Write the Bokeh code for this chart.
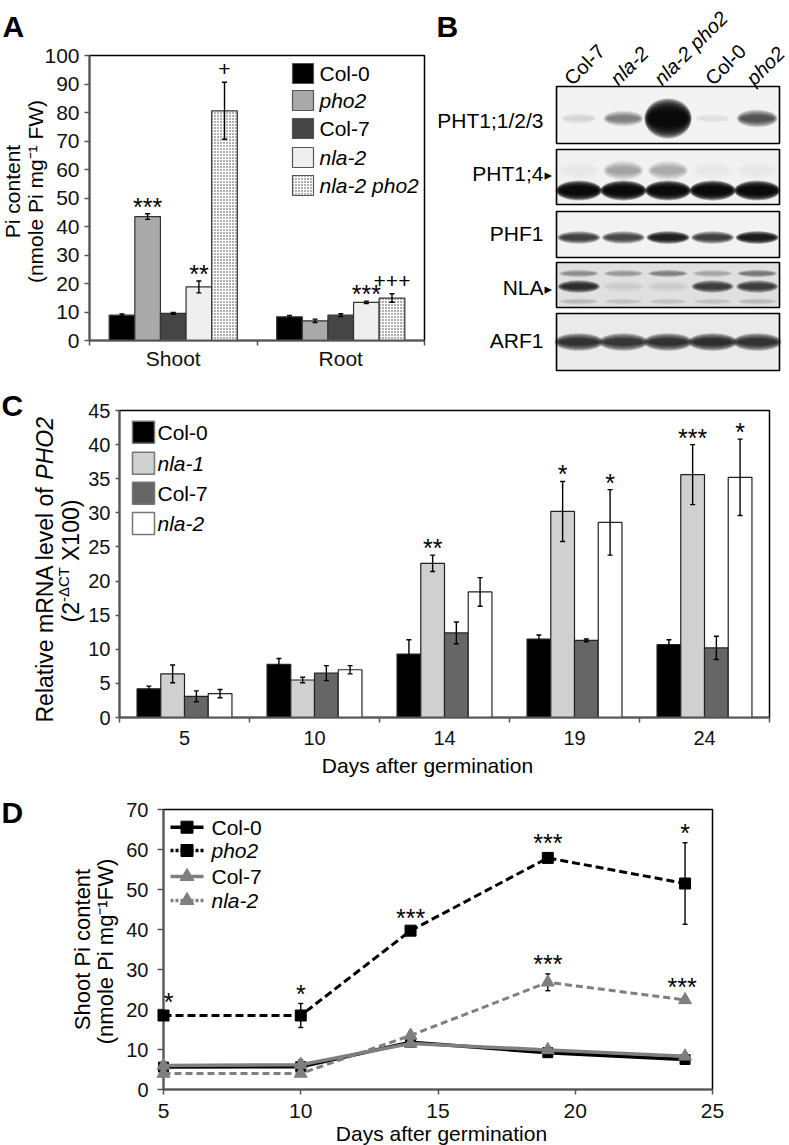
import math
from bokeh.plotting import figure
from bokeh.layouts import column, row
from bokeh.models import Range1d, FixedTicker
from bokeh.core.properties import value
from bokeh.embed import file_html
from bokeh.resources import INLINE

FONT = "Liberation Sans"

# ---------------- data ----------------
# Panel A: Pi content
a_tissues = ["Shoot", "Root"]
a_genotypes = ["Col-0", "pho2", "Col-7", "nla-2", "nla-2 pho2"]
a_shoot = [8.9, 43.5, 9.5, 18.8, 80.6]
a_shoot_err = [0.4, 1.0, 0.3, 2.1, 10.0]
a_root = [8.3, 6.9, 8.9, 13.4, 14.9]
a_root_err = [0.5, 0.6, 0.5, 0.4, 1.5]
a_shoot_sig = ["", "***", "", "**", "+"]
a_root_sig = ["", "", "", "***", "+++"]

# Panel B: immunoblot (relative band intensities, 0-1)
b_lanes = ["Col-7", "nla-2", "nla-2 pho2", "Col-0", "pho2"]
b_rows = ["PHT1;1/2/3", "PHT1;4", "PHF1", "NLA", "ARF1"]
b_pht123 = [0.10, 0.45, 0.98, 0.07, 0.65]
b_pht14_upper = [0.04, 0.30, 0.28, 0.03, 0.05]
b_pht14 = [0.97, 0.97, 0.97, 0.97, 0.97]
b_phf1 = [0.75, 0.72, 0.88, 0.75, 0.90]
b_nla_upper = [0.35, 0.30, 0.40, 0.25, 0.45]
b_nla = [0.82, 0.07, 0.07, 0.75, 0.75]
b_nla_lower = [0.15, 0.12, 0.12, 0.12, 0.15]
b_arf1 = [0.80, 0.78, 0.80, 0.82, 0.80]

# Panel C: PHO2 mRNA
c_days = ["5", "10", "14", "19", "24"]
c_genotypes = ["Col-0", "nla-1", "Col-7", "nla-2"]
c_col0 = [4.2, 7.8, 9.3, 11.5, 10.7]
c_col0_err = [0.4, 0.85, 2.1, 0.6, 0.7]
c_nla1 = [6.4, 5.5, 22.6, 30.2, 35.6]
c_nla1_err = [1.3, 0.4, 1.2, 4.4, 4.4]
c_col7 = [3.1, 6.5, 12.4, 11.3, 10.2]
c_col7_err = [0.8, 1.1, 1.6, 0.2, 1.7]
c_nla2 = [3.5, 7.0, 18.4, 28.6, 35.2]
c_nla2_err = [0.6, 0.6, 2.1, 4.8, 5.6]
c_sig_nla1 = ["", "", "**", "*", "***"]
c_sig_nla2 = ["", "", "", "*", "*"]

# Panel D: shoot Pi over time
d_days = [5, 10, 14, 19, 24]
d_col0 = [5.6, 5.7, 11.8, 9.2, 7.5]
d_col0_err = [0.5, 0.6, 0.7, 0.7, 0.5]
d_pho2 = [18.5, 18.5, 39.7, 57.9, 51.5]
d_pho2_err = [0.8, 3.0, 0.8, 1.2, 10.2]
d_col7 = [6.0, 6.2, 11.5, 9.9, 8.3]
d_col7_err = [0.6, 1.2, 0.8, 0.8, 0.6]
d_nla2 = [4.0, 4.0, 13.5, 26.8, 22.4]
d_nla2_err = [0.4, 0.5, 1.0, 2.1, 0.7]
d_sig_pho2 = ["*", "*", "***", "***", "*"]
d_sig_nla2 = ["", "", "", "***", "***"]


# ---------------- helpers ----------------
class Geo:
    """Maps reference-picture pixel positions to data coordinates of a frame."""
    def __init__(self, fx0, fx1, fy0, fy1, x0, x1, y0, y1):
        self.fx0, self.fx1, self.fy0, self.fy1 = fx0, fx1, fy0, fy1
        self.x0, self.x1, self.y0, self.y1 = x0, x1, y0, y1

    def x(self, px):
        return self.x0 + (px - self.fx0) * (self.x1 - self.x0) / (self.fx1 - self.fx0)

    def y(self, py):
        return self.y1 - (py - self.fy0) * (self.y1 - self.y0) / (self.fy1 - self.fy0)

    def ppu_y(self):
        return (self.fy1 - self.fy0) / (self.y1 - self.y0)


def make_fig(fx, fy, W, H, g, axes=True):
    kw = dict(width=W, height=H,
              x_range=Range1d(g.x0, g.x1), y_range=Range1d(g.y0, g.y1),
              output_backend="svg", toolbar_location=None,
              min_border_left=int(round(g.fx0 - fx)),
              min_border_right=int(round(fx + W - g.fx1)),
              min_border_top=int(round(g.fy0 - fy)),
              min_border_bottom=int(round(fy + H - g.fy1)))
    if not axes:
        kw.update(x_axis_location=None, y_axis_location=None)
    p = figure(**kw)
    p.grid.visible = False
    p.background_fill_color = "white"
    p.border_fill_color = "white"
    if axes:
        p.outline_line_color = "black"
        p.outline_line_width = 1.5
        for ax in (p.xaxis, p.yaxis):
            ax.axis_line_color = "#555555"
            ax.axis_line_width = 2
            ax.major_tick_line_color = "#555555"
            ax.major_tick_line_width = 1.5
            ax.major_tick_in = 0
            ax.minor_tick_line_color = None
            ax.major_label_text_font = FONT
            ax.major_label_text_color = "#111111"
    else:
        p.outline_line_color = None
    return p


def txt(p, g, px, py, text, size, align="left", baseline="alphabetic",
        angle=0.0, style="normal", font=FONT):
    r = p.text(x=[g.x(px)], y=[g.y(py)], text=[text], angle=angle,
               text_font=value(font), text_font_size=f"{size}px",
               text_align=align, text_baseline=baseline,
               text_font_style=value(style), text_color="black")
    r.level = "overlay"
    return r


def errbars(p, xs, vals, errs, cap=5, color="black", width=1.4, level=None):
    lo = [v - e for v, e in zip(vals, errs)]
    hi = [v + e for v, e in zip(vals, errs)]
    r1 = p.segment(x0=xs, y0=lo, x1=xs, y1=hi, line_color=color, line_width=width)
    r2 = p.scatter(x=list(xs) + list(xs), y=lo + hi, marker="dash", size=cap,
                   line_color=color, line_width=width)
    if level:
        r1.level = level
        r2.level = level


def sig(p, xs, vals, errs, texts, size, yoff, xoffs=None):
    if xoffs is None:
        xoffs = [0] * len(xs)
    keep = [(x, v + e, t, o) for x, v, e, t, o in zip(xs, vals, errs, texts, xoffs) if t]
    if not keep:
        return
    r = p.text(x=[k[0] for k in keep], y=[k[1] for k in keep], text=[k[2] for k in keep],
               x_offset=[k[3] for k in keep], y_offset=yoff,
               text_font=value(FONT), text_font_size=f"{size}px",
               text_align="center", text_baseline="alphabetic", text_color="black")
    r.level = "overlay"


ROT = math.pi / 2

# ================= Panel A =================
gA = Geo(89, 424, 55, 340, 0, 4, 0, 100)
pA = make_fig(0, 0, 430, 380, gA)
a_fill = ["#000000", "#a9a9a9", "#454545", "#efefef", "#ffffff"]
HATCH = dict(hatch_pattern="dot", hatch_scale=3.0, hatch_color="#3a3a3a", hatch_weight=1.4)
bwA = 0.306
for j, gname in enumerate(a_genotypes):
    xs = [1 + 2 * i + (j - 2) * bwA for i in range(len(a_tissues))]
    tops = [a_shoot[j], a_root[j]]
    errs = [a_shoot_err[j], a_root_err[j]]
    extra = HATCH if j == 4 else {}
    pA.vbar(x=xs, top=tops, bottom=0, width=bwA, fill_color=a_fill[j],
            line_color="#333333", line_width=1.2, **extra)
    errbars(pA, xs, tops, errs, cap=5)
    stars = [a_shoot_sig[j], a_root_sig[j]]
    plus = [s if s.startswith("+") else "" for s in stars]
    ast = [s if s.startswith("*") else "" for s in stars]
    sig(pA, xs, tops, errs, ast, 25, -7)
    sig(pA, xs, tops, errs, plus, 21, -13)

# legend A
legA_rows = [73, 100, 128, 157, 185]
for j, gname in enumerate(a_genotypes):
    extra = HATCH if j == 4 else {}
    pA.rect(x=[gA.x(302.5)], y=[gA.y(legA_rows[j])], width=21, height=20,
            width_units="screen", height_units="screen", fill_color=a_fill[j],
            line_color="#555555", line_width=1.2, **extra)
    pA.text(x=[gA.x(319)], y=[gA.y(legA_rows[j])], text=[gname],
            text_font=value(FONT), text_font_size="21px",
            text_font_style=value("normal" if j in (0, 2) else "italic"),
            text_baseline="middle", text_align="left", text_color="black")

pA.xaxis.ticker = FixedTicker(ticks=[1, 3], minor_ticks=[0, 2, 4])
pA.xaxis.major_label_overrides = {1: a_tissues[0], 3: a_tissues[1]}
pA.xaxis.major_tick_line_color = None
pA.xaxis.major_tick_out = 0
pA.xaxis.minor_tick_line_color = "#555555"
pA.xaxis.minor_tick_line_width = 1.5
pA.xaxis.minor_tick_out = 5
pA.xaxis.minor_tick_in = 0
pA.xaxis.major_label_standoff = 1
pA.xaxis.major_label_text_font_size = "21px"
pA.yaxis.ticker = FixedTicker(ticks=list(range(0, 101, 10)), minor_ticks=[])
pA.yaxis.major_tick_out = 5
pA.yaxis.major_label_standoff = 5
pA.yaxis.major_label_text_font_size = "21px"

txt(pA, gA, 2, 26, "A", 30, style="bold")
txt(pA, gA, 12, 191, "Pi content", 21, align="center", baseline="middle", angle=ROT)
txt(pA, gA, 35, 191, "(nmole Pi mg\u207b\u00b9 FW)", 21, align="center",
    baseline="middle", angle=ROT)

# ================= Panel B =================
# frame shares A's top/bottom borders; all blot marks drawn at overlay level
gB = Geo(553, 780, 55, 340, -0.0673, 5.0224, 0.528, 5.5458)
pB = make_fig(430, 0, 359, 380, gB, axes=False)
ppuB = gB.ppu_y()
row_center_px = [114.5, 176.5, 234, 284.5, 341.5]
row_height_px = [57, 55, 46, 45, 57]
row_bg = ["#f3f3f3", "#f1f1f1", "#f2f2f2", "#e0e0e0", "#eaeaea"]
r = pB.rect(x=[2.5] * 5, y=[gB.y(c) for c in row_center_px], width=5,
            height=[h / ppuB for h in row_height_px], fill_color=row_bg,
            line_color=None)
r.level = "overlay"

lane_x = [l + 0.5 for l in range(len(b_lanes))]


def bands(ri, dy_px, h_px, intens, widths, nlayers=10):
    yc = gB.y(row_center_px[ri] + dy_px)
    if not isinstance(h_px, list):
        h_px = [h_px] * len(intens)
    if not isinstance(widths, list):
        widths = [widths] * len(intens)
    alphas = [1 - (1 - min(I, 0.985)) ** (1.0 / nlayers) for I in intens]
    for k in range(nlayers):
        s = 1.0 - k * 0.075
        rr = pB.ellipse(x=lane_x, y=[yc] * len(intens),
                        width=[w * (0.7 + 0.3 * s) for w in widths],
                        height=[h / ppuB * s for h in h_px],
                        fill_color="#050505", fill_alpha=alphas, line_color=None)
        rr.level = "overlay"


bands(0, 3.5, [12, 16, 40, 10, 18], b_pht123, [0.8, 0.9, 1.06, 0.8, 0.92])
bands(1, -6.5, 20, b_pht14_upper, 0.9)
bands(1, 13.5, 20, b_pht14, 1.04)
bands(2, 3, 13, b_phf1, 0.97)
bands(3, -11.5, 8, b_nla_upper, 0.9)
bands(3, 1.5, 13, b_nla, 0.95)
bands(3, 16.5, 7, b_nla_lower, 0.9)
bands(4, 0, 18, b_arf1, 1.1)

r = pB.rect(x=[2.5] * 5, y=[gB.y(c) for c in row_center_px], width=5,
            height=[h / ppuB for h in row_height_px], fill_color=None,
            line_color="black", line_width=1.6)
r.level = "overlay"

lane_offsets = [0.25, 0.28, 0.26, 0.41, 0.33]
for l, name in enumerate(b_lanes):
    rr = pB.text(x=[l + lane_offsets[l]], y=[gB.y(81)], text=[name], angle=math.pi / 4,
                 text_font=value(FONT), text_font_size="20px",
                 text_align="left", text_baseline="alphabetic",
                 text_font_style=value("normal" if name.startswith("Col") else "italic"),
                 text_color="black")
    rr.level = "overlay"

row_label_px = [120, 173, 233, 287, 340]
for ri, name in enumerate(b_rows):
    txt(pB, gB, 543, row_label_px[ri], name, 21, align="right", baseline="middle")
    if name in ("PHT1;4", "NLA"):
        txt(pB, gB, 544, row_label_px[ri] + 1, "\u25b8", 15, align="left",
            baseline="middle", font="DejaVu Sans")

txt(pB, gB, 436, 26, "B", 30, style="bold")

# ================= Panel C =================
gC = Geo(119, 769, 410, 717, 0, 10, 0, 45)
pC = make_fig(0, 380, 789, 405, gC)
c_fill = ["#000000", "#d0d0d0", "#666666", "#ffffff"]
c_vals = [c_col0, c_nla1, c_col7, c_nla2]
c_errs = [c_col0_err, c_nla1_err, c_col7_err, c_nla2_err]
c_sigs = [None, c_sig_nla1, None, c_sig_nla2]
bwC = 0.365
for j, gname in enumerate(c_genotypes):
    xs = [1 + 2 * i + (j - 1.5) * bwC for i in range(len(c_days))]
    pC.vbar(x=xs, top=c_vals[j], bottom=0, width=bwC, fill_color=c_fill[j],
            line_color="#222222", line_width=1.2)
    errbars(pC, xs, c_vals[j], c_errs[j], cap=5)
    if c_sigs[j]:
        sig(pC, xs, c_vals[j], c_errs[j], c_sigs[j], 25, -7)

legC_rows = [431.7, 462.7, 492.7, 523]
for j, gname in enumerate(c_genotypes):
    pC.rect(x=[gC.x(143)], y=[gC.y(legC_rows[j])], width=22, height=22,
            width_units="screen", height_units="screen", fill_color=c_fill[j],
            line_color="#777777", line_width=1.5)
    pC.text(x=[gC.x(157)], y=[gC.y(legC_rows[j])], text=[gname],
            text_font=value(FONT), text_font_size="21px",
            text_font_style=value("normal" if j in (0, 2) else "italic"),
            text_baseline="middle", text_align="left", text_color="black")

pC.xaxis.ticker = FixedTicker(ticks=[1, 3, 5, 7, 9], minor_ticks=[0, 2, 4, 6, 8, 10])
pC.xaxis.major_label_overrides = {1 + 2 * i: d for i, d in enumerate(c_days)}
pC.xaxis.major_tick_line_color = None
pC.xaxis.major_tick_out = 0
pC.xaxis.minor_tick_line_color = "#555555"
pC.xaxis.minor_tick_line_width = 1.5
pC.xaxis.minor_tick_out = 5
pC.xaxis.minor_tick_in = 0
pC.xaxis.major_label_standoff = 8
pC.xaxis.major_label_text_font_size = "20px"
pC.yaxis.ticker = FixedTicker(ticks=list(range(0, 46, 5)), minor_ticks=[])
pC.yaxis.major_tick_out = 4
pC.yaxis.major_label_standoff = 5
pC.yaxis.major_label_text_font_size = "20px"

txt(pC, gC, 1, 405, "C", 30, style="bold")
txt(pC, gC, 44.5, 722, "Relative mRNA level of ", 23, align="left", baseline="middle", angle=ROT)
txt(pC, gC, 44.5, 722 - 10.558 * 23, "PHO2", 23, align="left", baseline="middle",
    angle=ROT, style="italic")
l2_start = 622
txt(pC, gC, 70, l2_start, "(2", 23, align="left", baseline="middle", angle=ROT)
txt(pC, gC, 63, l2_start - 20.5, "-\u0394CT", 15, align="left", baseline="middle", angle=ROT)
txt(pC, gC, 70, l2_start - 20.5 - 35 - 6, "X100)", 23, align="left", baseline="middle", angle=ROT)
txt(pC, gC, 427, 765, "Days after germination", 21, align="center")

# ================= Panel D =================
gD = Geo(163, 712, 809, 1089, 5, 25, 0, 70)
pD = make_fig(0, 785, 789, 360, gD)
GREY = "#7f7f7f"
errbars(pD, d_days, d_col0, d_col0_err, cap=5, level="overlay")
errbars(pD, d_days, d_pho2, d_pho2_err, cap=5, level="overlay")
errbars(pD, d_days, d_col7, d_col7_err, cap=5, level="overlay")
errbars(pD, d_days, d_nla2, d_nla2_err, cap=5, level="overlay")
series = [(d_col0, "black", "solid", "square", 10, 3.5),
          (d_pho2, "black", "8 4", "square", 11, 3.0),
          (d_col7, GREY, "solid", "triangle", 13, 3.5),
          (d_nla2, GREY, "7 4", "triangle", 13, 3.0)]
for vals, colr, dash, mk, sz, lw in series:
    rl = pD.line(d_days, vals, line_color=colr, line_width=lw, line_dash=dash)
    rl.level = "overlay"
    rm = pD.scatter(d_days, vals, marker=mk, size=sz, color=colr)
    rm.level = "overlay"
sig(pD, d_days, d_pho2, d_pho2_err, d_sig_pho2, 25, -10, xoffs=[5, 0, 0, 0, 0])
sig(pD, d_days, d_nla2, d_nla2_err, d_sig_nla2, 25, -10, xoffs=[0, 0, 0, 0, -3])

d_names = ["Col-0", "pho2", "Col-7", "nla-2"]
d_colors = ["black", "black", GREY, GREY]
d_dash = ["solid", "3 2", "solid", "3 2"]
d_marks = ["square", "square", "triangle", "triangle"]
legD_rows = [826.7, 850, 876, 900]
for j, nm in enumerate(d_names):
    yy = gD.y(legD_rows[j])
    pD.line([gD.x(170), gD.x(203)], [yy, yy], line_color=d_colors[j], line_width=3.5,
            line_dash=d_dash[j])
    pD.scatter([gD.x(186.5)], [yy], marker=d_marks[j], size=12 if j < 2 else 14,
               color=d_colors[j])
    pD.text(x=[gD.x(211)], y=[yy], text=[nm], text_font=value(FONT), text_font_size="21px",
            text_font_style=value("normal" if j in (0, 2) else "italic"),
            text_baseline="middle", text_align="left", text_color="black")

pD.xaxis.ticker = FixedTicker(ticks=[5, 10, 15, 20, 25], minor_ticks=[])
pD.xaxis.major_tick_out = 5
pD.xaxis.major_label_standoff = 9
pD.xaxis.major_label_text_font_size = "21px"
pD.yaxis.ticker = FixedTicker(ticks=list(range(0, 71, 10)), minor_ticks=[])
pD.yaxis.major_tick_out = 6
pD.yaxis.major_label_standoff = 9
pD.yaxis.major_label_text_font_size = "20px"

txt(pD, gD, 1, 812, "D", 30, style="bold")
txt(pD, gD, 82, 949, "Shoot Pi content", 22, align="center", baseline="middle", angle=ROT)
txt(pD, gD, 105, 951, "(nmole Pi mg\u207b\u00b9FW)", 22, align="center", baseline="middle", angle=ROT)
txt(pD, gD, 441, 1133, "Days after germination", 21, align="center")

layout = column(row(column(pA), column(pB)), row(pC), row(pD))
open("out.html", "w").write(file_html(layout, INLINE))
